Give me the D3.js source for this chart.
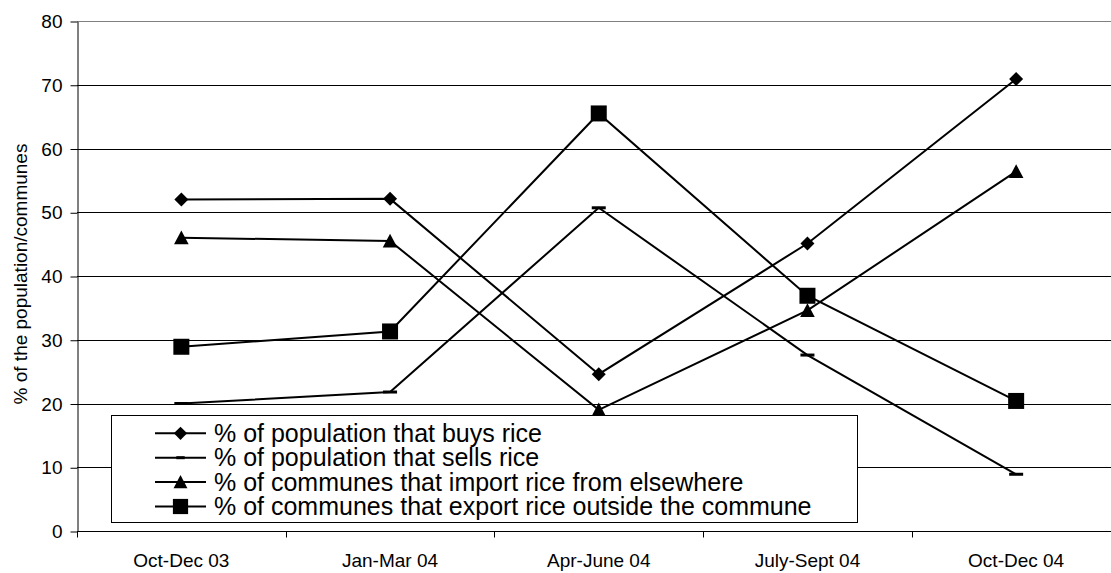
<!DOCTYPE html>
<html>
<head>
<meta charset="utf-8">
<script src="https://cdn.jsdelivr.net/npm/d3@7"></script>
<style>
  html, body { margin: 0; padding: 0; background: #fff; }
  svg { display: block; font-family: "Liberation Sans", Arial, sans-serif; }
</style>
</head>
<body>
<svg id="chart" width="1111" height="573"></svg>
<script>
// Quarters on the horizontal axis
const quarters = ["Oct-Dec 03", "Jan-Mar 04", "Apr-June 04", "July-Sept 04", "Oct-Dec 04"];

// Percentages per quarter
const buysRice    = [52.0, 52.1, 24.6, 45.1, 70.9];
const sellsRice   = [20.0, 21.8, 50.7, 27.6, 8.9];
const importRice  = [46.0, 45.5, 19.0, 34.6, 56.4];
const exportRice  = [28.9, 31.3, 65.5, 36.9, 20.4];

const yTicks = [0, 10, 20, 30, 40, 50, 60, 70, 80];

const seriesNames = [
  "% of population that buys rice",
  "% of population that sells rice",
  "% of communes that import rice from elsewhere",
  "% of communes that export rice outside the commune"
];
const seriesMarkers = ["diamond", "dash", "triangle", "square"];
const seriesValues = [buysRice, sellsRice, importRice, exportRice];

const series = seriesNames.map((name, i) => ({
  name, marker: seriesMarkers[i], values: seriesValues[i]
}));

const svg = d3.select("#chart");
const plotLeft = 77, plotRight = 1120.5, plotTop = 21, plotBottom = 531;

const x = d3.scalePoint().domain(quarters).range([plotLeft, plotRight]).padding(0.5);
const y = d3.scaleLinear().domain([0, 80]).range([plotBottom, plotTop]);

// Horizontal gridlines
svg.append("g")
  .selectAll("line")
  .data(yTicks.filter(t => t > 0))
  .join("line")
  .attr("x1", plotLeft).attr("x2", plotRight)
  .attr("y1", d => Math.round(y(d)) + 0.5)
  .attr("y2", d => Math.round(y(d)) + 0.5)
  .attr("stroke", d => d === 80 ? "#808080" : "#000")
  .attr("stroke-width", 1);

// Y axis
const yAxis = d3.axisLeft(y).tickValues(yTicks).tickSize(7).tickPadding(8).tickSizeOuter(0);
const gy = svg.append("g").attr("transform", `translate(${plotLeft + 0.5},0.5)`).call(yAxis);
gy.select(".domain").attr("stroke", "#000");
gy.selectAll(".tick line").attr("stroke", "#000");
gy.selectAll(".tick text").attr("font-size", 19).attr("fill", "#000")
  .attr("font-family", "Liberation Sans, Arial, sans-serif");

// X axis with tick marks between categories
const gx = svg.append("g").attr("transform", `translate(0,${plotBottom + 0.5})`);
gx.append("line").attr("x1", plotLeft).attr("x2", plotRight).attr("stroke", "#000");
const step = x.step();
const boundaries = d3.range(quarters.length + 1).map(i => plotLeft + i * step);
gx.selectAll("line.tk").data(boundaries).join("line").attr("class", "tk")
  .attr("x1", d => Math.round(d) + 0.5).attr("x2", d => Math.round(d) + 0.5)
  .attr("y1", 0).attr("y2", 6).attr("stroke", "#000");
gx.selectAll("text").data(quarters).join("text")
  .attr("x", d => x(d)).attr("y", 35)
  .attr("text-anchor", "middle")
  .attr("font-size", 19).attr("fill", "#000")
  .text(d => d);

// Y axis title
svg.append("text")
  .attr("transform", `translate(27,274) rotate(-90)`)
  .attr("text-anchor", "middle")
  .attr("font-size", 19).attr("fill", "#000")
  .text("% of the population/communes");

// Marker shapes
function drawMarker(g, type, cx, cy, scale = 1) {
  if (type === "diamond") {
    const s = 7 * scale;
    g.append("path").attr("d", `M${cx},${cy - s}L${cx + s},${cy}L${cx},${cy + s}L${cx - s},${cy}Z`).attr("fill", "#000");
  } else if (type === "triangle") {
    const s = 7.3 * scale;
    g.append("path").attr("d", `M${cx},${cy - s}L${cx + s},${cy + s * 0.9}L${cx - s},${cy + s * 0.9}Z`).attr("fill", "#000");
  } else if (type === "square") {
    const s = 8 * scale;
    g.append("rect").attr("x", cx - s).attr("y", cy - s).attr("width", 2 * s).attr("height", 2 * s).attr("fill", "#000");
  } else if (type === "dash") {
    g.append("rect").attr("x", cx - 7 * scale).attr("y", cy - 1.5).attr("width", 14 * scale).attr("height", 3).attr("fill", "#000");
  }
}

const line = d3.line().x((d, i) => x(quarters[i])).y(d => y(d));

const plot = svg.append("g");
series.forEach(s => {
  plot.append("path").datum(s.values)
    .attr("d", line).attr("fill", "none")
    .attr("stroke", "#000").attr("stroke-width", 2);
});
series.forEach(s => {
  const g = plot.append("g");
  s.values.forEach((v, i) => drawMarker(g, s.marker, x(quarters[i]), y(v)));
});

// Legend
const lg = svg.append("g");
lg.append("rect").attr("x", 111.5).attr("y", 415.5).attr("width", 746).attr("height", 107)
  .attr("fill", "#fff").attr("stroke", "#000").attr("stroke-width", 1);
const rowY = [433.3, 457.7, 482, 506.5];
series.forEach((s, i) => {
  const cy = rowY[i];
  lg.append("line").attr("x1", 155).attr("x2", 206).attr("y1", cy).attr("y2", cy)
    .attr("stroke", "#000").attr("stroke-width", 2);
  drawMarker(lg, s.marker, 180.5, cy, s.marker === "dash" ? 0.6 : 0.95);
  lg.append("text").attr("x", 214).attr("y", cy + 8.6)
    .attr("font-size", 25).attr("fill", "#000").text(s.name);
});
</script>
</body>
</html>
